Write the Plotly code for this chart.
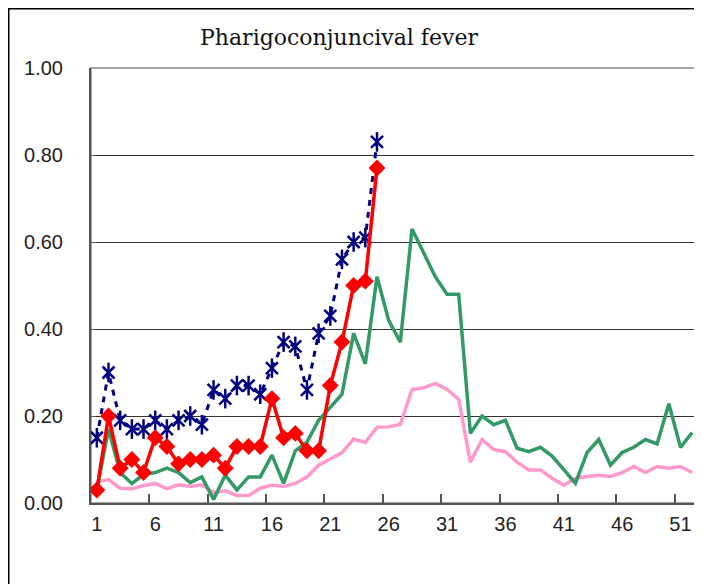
import plotly.graph_objects as go

weeks = list(range(1, 53))
week_labels = [str(w) for w in range(1, 53, 5)]

navy_vals = [0.15, 0.30, 0.19, 0.17, 0.17, 0.19, 0.17, 0.19, 0.20, 0.18,
             0.26, 0.24, 0.27, 0.27, 0.25, 0.31, 0.37, 0.36, 0.26, 0.39,
             0.43, 0.56, 0.60, 0.61, 0.83]
red_vals = [0.03, 0.20, 0.08, 0.10, 0.07, 0.15, 0.13, 0.09, 0.10, 0.10,
            0.11, 0.08, 0.13, 0.13, 0.13, 0.24, 0.15, 0.16, 0.12, 0.12,
            0.27, 0.37, 0.50, 0.51, 0.77]
green_vals = [0.03, 0.17, 0.07, 0.045, 0.065, 0.07, 0.08, 0.07, 0.047, 0.06,
              0.008, 0.064, 0.03, 0.06, 0.06, 0.11, 0.045, 0.12, 0.14, 0.19,
              0.22, 0.25, 0.39, 0.32, 0.52, 0.42, 0.37, 0.63, 0.575, 0.52,
              0.48, 0.48, 0.16, 0.20, 0.18, 0.19, 0.126, 0.118, 0.128, 0.108,
              0.077, 0.045, 0.116, 0.146, 0.087, 0.116, 0.128, 0.146, 0.136, 0.228,
              0.128, 0.162]
pink_vals = [0.049, 0.054, 0.034, 0.033, 0.04, 0.045, 0.033, 0.042, 0.038, 0.042,
             0.024, 0.028, 0.017, 0.017, 0.034, 0.041, 0.038, 0.045, 0.06, 0.087,
             0.101, 0.116, 0.147, 0.139, 0.174, 0.175, 0.181, 0.261, 0.265, 0.275,
             0.261, 0.238, 0.094, 0.146, 0.123, 0.118, 0.094, 0.076, 0.076, 0.057,
             0.041, 0.057, 0.061, 0.064, 0.061, 0.07, 0.084, 0.07, 0.084, 0.08,
             0.084, 0.07]

NAVY = "#000080"

fig = go.Figure()
fig.add_trace(go.Scatter(x=weeks[:len(pink_vals)], y=pink_vals, mode="lines",
                         line=dict(color="#FF99CC", width=3.5), showlegend=False))
fig.add_trace(go.Scatter(x=weeks[:len(green_vals)], y=green_vals, mode="lines",
                         line=dict(color="#339966", width=3.5), showlegend=False))
# star marker = x + vertical bar
fig.add_trace(go.Scatter(x=weeks[:len(navy_vals)], y=navy_vals, mode="lines+markers",
                         line=dict(color=NAVY, width=3, dash="6px,6px"),
                         marker=dict(symbol="x-thin-open", size=12, color=NAVY,
                                     line=dict(color=NAVY, width=2.5)),
                         showlegend=False))
fig.add_trace(go.Scatter(x=weeks[:len(navy_vals)], y=navy_vals, mode="markers",
                         marker=dict(symbol="line-ns-open", size=14, color=NAVY,
                                     line=dict(color=NAVY, width=2.5)),
                         showlegend=False))
fig.add_trace(go.Scatter(x=weeks[:len(red_vals)], y=red_vals, mode="lines+markers",
                         line=dict(color="#FF0000", width=3.5),
                         marker=dict(symbol="diamond", size=13, color="#FF0000"),
                         showlegend=False))

axis_font = dict(family="Liberation Sans, Arial, sans-serif", size=20, color="#222222")

W, H = 694, 576
L, R, T, B = 83, 4, 60, 81
pw = W - L - R
ph = H - T - B

fig.update_layout(
    width=W, height=H,
    margin=dict(l=L, r=R, t=T, b=B),
    paper_bgcolor="white", plot_bgcolor="white",
    title=dict(text="Pharigoconjuncival fever", x=331 / W, xanchor="center",
               y=1 - 29 / H, yanchor="middle",
               font=dict(family="DejaVu Serif, Liberation Serif, serif", size=22, color="#111111")),
    xaxis=dict(range=[0.5, 52.5], tickmode="array", tickvals=list(range(1, 53, 5)),
               ticktext=week_labels, ticks="", showgrid=False, zeroline=False,
               showline=True, linecolor="#555555", linewidth=2,
               tickfont=axis_font, ticklabelstandoff=2),
    xaxis2=dict(range=[0.5, 52.5], overlaying="x", side="bottom", anchor="y",
                tickmode="array", tickvals=[x + 0.5 for x in range(5, 51, 5)],
                showticklabels=False, ticks="inside", ticklen=9, tickcolor="#555555",
                tickwidth=1.5, showgrid=False, zeroline=False, showline=False),
    yaxis=dict(range=[0, 1], tickmode="array", tickvals=[0, 0.2, 0.4, 0.6, 0.8, 1.0],
               ticktext=["0.00", "0.20", "0.40", "0.60", "0.80", "1.00"],
               showgrid=True, gridcolor="#333333", gridwidth=1, zeroline=False,
               showline=True, linecolor="#555555", linewidth=2,
               ticks="inside", ticklen=5, tickcolor="#555555",
               tickfont=axis_font, ticklabelstandoff=22),
    shapes=[
        dict(type="rect", xref="paper", yref="paper", x0=0, x1=1, y0=0, y1=1,
             line=dict(color="#888888", width=1.5), layer="below"),
        dict(type="rect", xref="paper", yref="paper",
             x0=(0.75 - L) / pw, x1=(W + 20 - L) / pw, y0=-0.4, y1=(ph + T - 0.75) / ph,
             line=dict(color="black", width=1.5)),
    ],
)
# invisible trace to activate the tick-mark axis
fig.add_trace(go.Scatter(x=[None], y=[None], xaxis="x2", showlegend=False, hoverinfo="skip"))

fig.write_html("out.html")
